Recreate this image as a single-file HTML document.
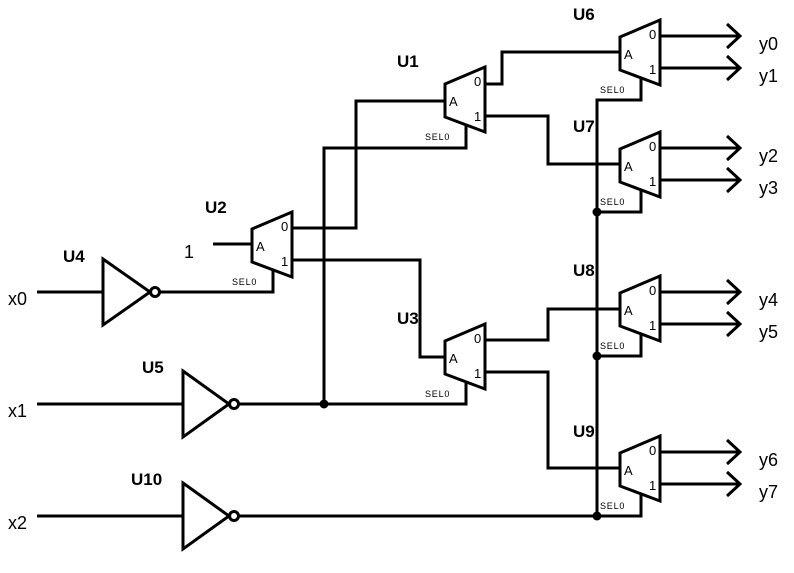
<!DOCTYPE html>
<html><head><meta charset="utf-8"><style>
html,body{margin:0;padding:0;background:#fff}
svg{display:block}
text{font-family:"Liberation Sans",sans-serif;fill:#000}
.b{font-weight:bold;font-size:17px}
.io{font-size:18px}
.s{font-size:13px}
.sel{font-size:9px;letter-spacing:0.8px}
</style></head><body>
<svg width="794" height="573" viewBox="0 0 794 573" xmlns="http://www.w3.org/2000/svg">
<g fill="none" stroke="#000" stroke-width="3" stroke-linejoin="miter">
<polygon points="445,84 485,67 485,132 445,117"/>
<polygon points="252,229 292,212 292,277 252,262"/>
<polygon points="445,341 485,324 485,389 445,374"/>
<polygon points="620,37 660,20 660,85 620,70"/>
<polygon points="620,149 660,132 660,197 620,182"/>
<polygon points="620,293 660,276 660,341 620,326"/>
<polygon points="620,453 660,436 660,501 620,486"/>
<polygon points="103,259 150,292 103,325"/>
<circle cx="155" cy="292" r="4.5"/>
<polygon points="183,371 229,404 183,437"/>
<circle cx="234" cy="404" r="4.5"/>
<polygon points="183,483 229,516 183,549"/>
<circle cx="234" cy="516" r="4.5"/>
<line x1="37" y1="292" x2="103" y2="292"/>
<line x1="37" y1="404" x2="183" y2="404"/>
<line x1="37" y1="516" x2="183" y2="516"/>
<polyline points="160,292 273,292 273,270"/>
<line x1="213" y1="244" x2="252" y2="244"/>
<polyline points="239,404 466,404 466,382"/>
<polyline points="239,516 641,516 641,494"/>
<polyline points="292,228 356,228 356,101 445,101"/>
<polyline points="292,260 420,260 420,357 445,357"/>
<polyline points="466,125 466,148 324,148 324,404"/>
<polyline points="485,84 502,84 502,52 620,52"/>
<polyline points="485,116 548,116 548,164 620,164"/>
<polyline points="485,340 548,340 548,309 620,309"/>
<polyline points="485,372 548,372 548,468 620,468"/>
<polyline points="641,78 641,100 597,100 597,516"/>
<polyline points="641,190 641,212 597,212"/>
<polyline points="641,334 641,356 597,356"/>
<line x1="660" y1="36" x2="740" y2="36"/><polyline points="727,24 740,36 727,48"/>
<line x1="660" y1="68" x2="740" y2="68"/><polyline points="727,56 740,68 727,80"/>
<line x1="660" y1="148" x2="740" y2="148"/><polyline points="727,136 740,148 727,160"/>
<line x1="660" y1="180" x2="740" y2="180"/><polyline points="727,168 740,180 727,192"/>
<line x1="660" y1="292" x2="740" y2="292"/><polyline points="727,280 740,292 727,304"/>
<line x1="660" y1="324" x2="740" y2="324"/><polyline points="727,312 740,324 727,336"/>
<line x1="660" y1="452" x2="740" y2="452"/><polyline points="727,440 740,452 727,464"/>
<line x1="660" y1="484" x2="740" y2="484"/><polyline points="727,472 740,484 727,496"/>
</g>
<g fill="#000">
<circle cx="324" cy="404" r="4.5"/>
<circle cx="597" cy="212" r="4.5"/>
<circle cx="597" cy="356" r="4.5"/>
<circle cx="597" cy="516" r="4.5"/>
</g>
<g class="s">
<text x="449" y="106">A</text><text x="474" y="86">0</text><text x="474" y="121">1</text>
<text x="256" y="251">A</text><text x="281" y="231">0</text><text x="281" y="266">1</text>
<text x="449" y="363">A</text><text x="474" y="343">0</text><text x="474" y="378">1</text>
<text x="624" y="59">A</text><text x="649" y="39">0</text><text x="649" y="74">1</text>
<text x="624" y="171">A</text><text x="649" y="151">0</text><text x="649" y="186">1</text>
<text x="624" y="315">A</text><text x="649" y="295">0</text><text x="649" y="330">1</text>
<text x="624" y="475">A</text><text x="649" y="455">0</text><text x="649" y="490">1</text>
</g>
<g class="sel">
<text x="425" y="140">SEL0</text>
<text x="232" y="285">SEL0</text>
<text x="425" y="397">SEL0</text>
<text x="600" y="93">SEL0</text>
<text x="600" y="205">SEL0</text>
<text x="600" y="349">SEL0</text>
<text x="600" y="509">SEL0</text>
</g>
<g class="b">
<text x="397" y="67">U1</text>
<text x="205" y="213">U2</text>
<text x="397" y="324">U3</text>
<text x="63" y="262">U4</text>
<text x="142" y="373">U5</text>
<text x="131" y="485">U10</text>
<text x="573" y="20">U6</text>
<text x="573" y="132">U7</text>
<text x="573" y="276">U8</text>
<text x="573" y="437">U9</text>
</g>
<g class="io">
<text x="184" y="258">1</text>
<text x="8" y="305">x0</text>
<text x="8" y="417">x1</text>
<text x="8" y="529">x2</text>
<text x="759" y="50">y0</text>
<text x="759" y="82">y1</text>
<text x="759" y="162">y2</text>
<text x="759" y="194">y3</text>
<text x="759" y="306">y4</text>
<text x="759" y="338">y5</text>
<text x="759" y="466">y6</text>
<text x="759" y="498">y7</text>
</g>
</svg>
</body></html>
